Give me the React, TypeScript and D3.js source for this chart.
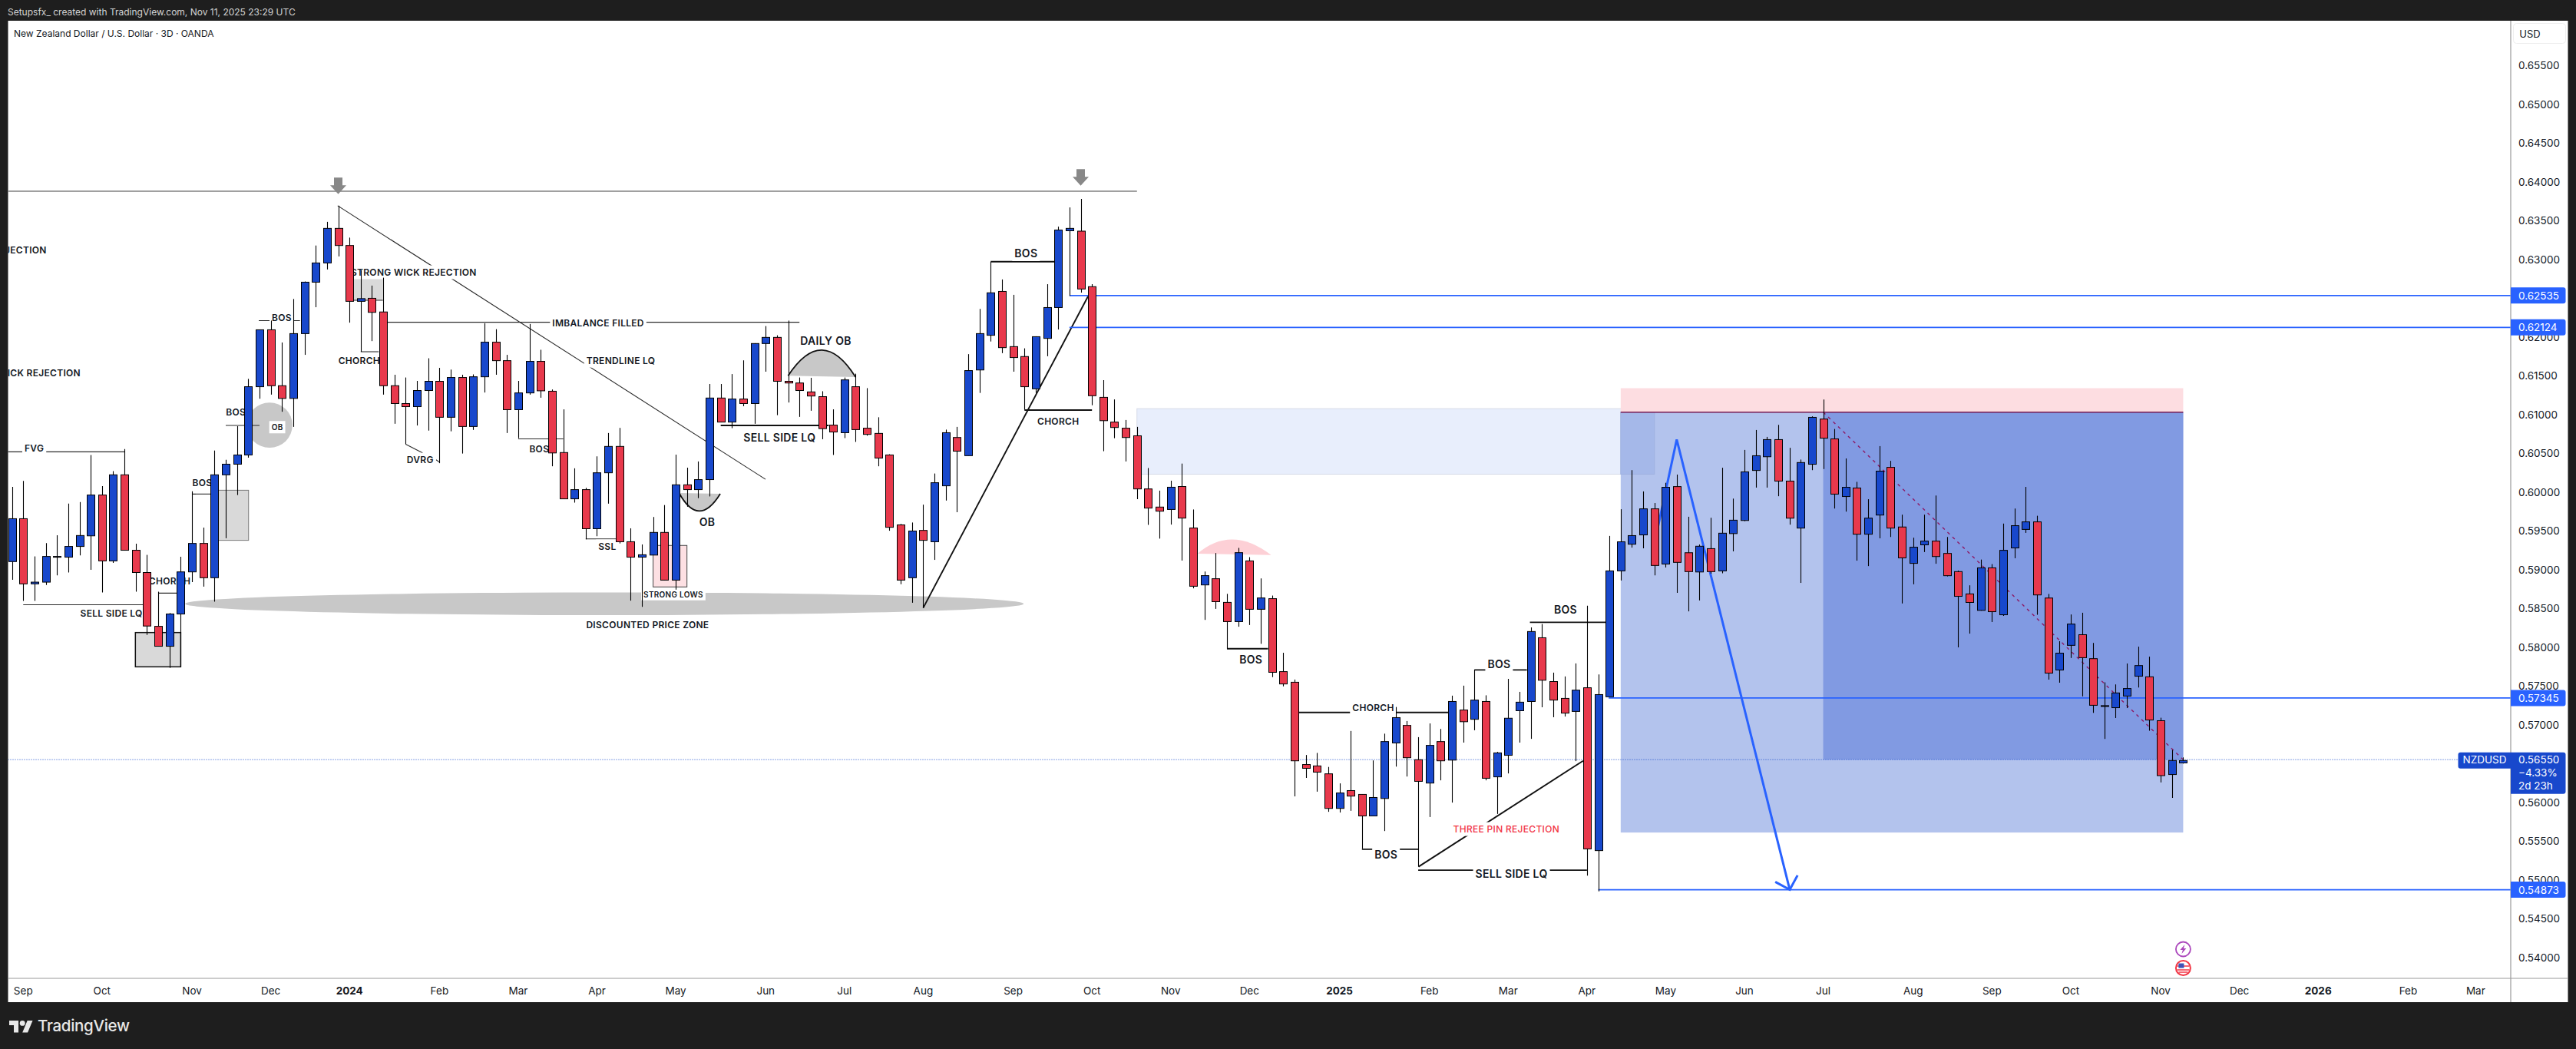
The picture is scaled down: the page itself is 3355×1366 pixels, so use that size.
import * as d3 from 'd3';

const size = { width: 3355, height: 1366 };

// frame of the TradingView snapshot
const pane = { left: 10.5, top: 27, right: 3270, bottom: 1274, outerRight: 3344.5, outerBottom: 1305 };

const color = {
  frame: '#1e1e1e',
  axisLine: '#9a9a9a',
  text: '#131722',
  up: '#1848cc',
  down: '#e8394c',
  tag: '#2962ff',
  grey: '#c8c8c8',
  box: '#d9d9d9',
  pink: '#fde0e3',
  zone: '#e8eefc',
  target: '#b3c3ed',
  active: '#819ae2',
  stop: '#fddde1',
  stopLine: '#7a1a50',
};

const opens = [
  0.59104, 0.59657, 0.58817, 0.58839, 0.59161, 0.59161, 0.59299, 0.59436, 0.59962, 0.59113,
  0.60223, 0.5925, 0.58963, 0.58269, 0.58012, 0.58428, 0.58971, 0.59338, 0.58896, 0.60223,
  0.6036, 0.60479, 0.61359, 0.62093, 0.61372, 0.61208, 0.62044, 0.62707, 0.62955, 0.63401,
  0.6318, 0.6246, 0.62499, 0.62323, 0.61372, 0.61142, 0.61102, 0.6131, 0.61429, 0.60965,
  0.61478, 0.60846, 0.61487, 0.61933, 0.61695, 0.61063, 0.61279, 0.61686, 0.61301, 0.6051,
  0.59913, 0.60032, 0.59528, 0.60249, 0.60589, 0.5936, 0.59161, 0.59188, 0.5948, 0.58865,
  0.60094, 0.60032, 0.60161, 0.61213, 0.60903, 0.612, 0.61142, 0.61916, 0.61995, 0.61429,
  0.61407, 0.61292, 0.61231, 0.60864, 0.60766, 0.61359, 0.60824, 0.60757, 0.60479, 0.59577,
  0.58896, 0.59506, 0.5936, 0.60081, 0.60704, 0.6047, 0.61575, 0.62022, 0.62588, 0.61876,
  0.61748, 0.61332, 0.61982, 0.6238, 0.6337, 0.63365, 0.62649, 0.61222, 0.60903, 0.60824,
  0.60726, 0.60041, 0.59807, 0.59776, 0.60072, 0.59537, 0.58803, 0.58883, 0.58578, 0.5833,
  0.59113, 0.58489, 0.58626, 0.57685, 0.57548, 0.56487, 0.56469, 0.56367, 0.55921, 0.56151,
  0.56102, 0.55824, 0.56049, 0.56765, 0.56991, 0.56549, 0.56248, 0.56783, 0.56544, 0.5719,
  0.5707, 0.573, 0.56328, 0.56606, 0.57181, 0.573, 0.58122, 0.57557, 0.5734, 0.57172,
  0.57477, 0.55377, 0.57361, 0.58984, 0.59328, 0.59448, 0.59784, 0.59072, 0.60071, 0.59218,
  0.5897, 0.59271, 0.58984, 0.59465, 0.59634, 0.60279, 0.60456, 0.60677, 0.60142, 0.59536,
  0.60359, 0.60942, 0.60686, 0.59943, 0.60053, 0.59457, 0.59704, 0.60319, 0.5955, 0.59081,
  0.5932, 0.59368, 0.59209, 0.58975, 0.58687, 0.58475, 0.59023, 0.58418, 0.5928, 0.59519,
  0.59616, 0.58634, 0.57706, 0.58024, 0.58161, 0.57852, 0.57237, 0.5722, 0.5737, 0.57626,
  0.57618, 0.57052, 0.56358, 0.56508,
];

const highs = [
  0.60068, 0.60143, 0.5917, 0.59343, 0.59444, 0.59851, 0.59873, 0.60479, 0.60077, 0.60271,
  0.60554, 0.59334, 0.59192, 0.58715, 0.58441, 0.59166, 0.6001, 0.59542, 0.60536, 0.60417,
  0.6085, 0.6146, 0.62093, 0.62212, 0.61929, 0.6249, 0.62716, 0.6318, 0.63485, 0.63693,
  0.63282, 0.62862, 0.62663, 0.62765, 0.61513, 0.61478, 0.61434, 0.61726, 0.61602, 0.6158,
  0.61513, 0.61518, 0.62177, 0.62101, 0.6177, 0.61434, 0.62168, 0.61836, 0.61323, 0.61067,
  0.60307, 0.60055, 0.60461, 0.60762, 0.60828, 0.59533, 0.59325, 0.59679, 0.59833, 0.60483,
  0.60315, 0.60395, 0.61394, 0.61394, 0.61522, 0.61699, 0.6192, 0.62141, 0.62022, 0.62212,
  0.61478, 0.61474, 0.61301, 0.61067, 0.61478, 0.61527, 0.61341, 0.60965, 0.60488, 0.5959,
  0.59608, 0.59838, 0.6024, 0.60806, 0.60841, 0.61779, 0.62362, 0.62972, 0.62742, 0.62544,
  0.61854, 0.62009, 0.62681, 0.63423, 0.63671, 0.63781, 0.62682, 0.61444, 0.61195, 0.6093,
  0.60841, 0.60311, 0.60019, 0.60147, 0.60368, 0.59776, 0.58976, 0.59214, 0.58688, 0.59281,
  0.59161, 0.58887, 0.58666, 0.57928, 0.57583, 0.5661, 0.56637, 0.56456, 0.56244, 0.5692,
  0.56102, 0.5654, 0.56885, 0.57229, 0.57048, 0.5684, 0.57017, 0.56946, 0.57375, 0.57504,
  0.57711, 0.5738, 0.5665, 0.57592, 0.57424, 0.58255, 0.58299, 0.57672, 0.57623, 0.57791,
  0.58534, 0.57649, 0.59435, 0.59779, 0.60283, 0.60009, 0.59859, 0.6012, 0.60226, 0.59682,
  0.59324, 0.59669, 0.60314, 0.59916, 0.60544, 0.60801, 0.60712, 0.60867, 0.60571, 0.6042,
  0.60977, 0.61194, 0.60814, 0.60434, 0.60133, 0.59908, 0.60593, 0.60403, 0.59709, 0.59412,
  0.59709, 0.59956, 0.59421, 0.58988, 0.58798, 0.5913, 0.59072, 0.59594, 0.59788, 0.60067,
  0.59695, 0.58687, 0.58077, 0.58422, 0.58444, 0.58055, 0.57547, 0.5752, 0.5779, 0.58007,
  0.57878, 0.57091, 0.56676, 0.56579,
];

const lows = [
  0.5887, 0.58596, 0.58596, 0.58803, 0.58927, 0.58963, 0.59184, 0.58998, 0.58706, 0.59086,
  0.5925, 0.58715, 0.58158, 0.58012, 0.57733, 0.57747, 0.58839, 0.58781, 0.58587, 0.59405,
  0.59962, 0.60444, 0.61204, 0.61257, 0.61036, 0.60841, 0.6177, 0.62384, 0.62871, 0.63039,
  0.62185, 0.6181, 0.61947, 0.61257, 0.60881, 0.60616, 0.60859, 0.60793, 0.60373, 0.60784,
  0.60497, 0.60802, 0.61284, 0.61513, 0.60762, 0.60696, 0.61257, 0.61217, 0.60333, 0.59909,
  0.59864, 0.59391, 0.59431, 0.59851, 0.59338, 0.586, 0.5852, 0.59188, 0.58865, 0.58742,
  0.59811, 0.59922, 0.59944, 0.60903, 0.60824, 0.61107, 0.60881, 0.61553, 0.60992, 0.61155,
  0.6097, 0.61049, 0.60682, 0.60479, 0.60696, 0.60647, 0.60727, 0.60333, 0.59502, 0.58812,
  0.58573, 0.58507, 0.59126, 0.59891, 0.59741, 0.6047, 0.61279, 0.61942, 0.61792, 0.61553,
  0.61063, 0.61279, 0.61752, 0.62097, 0.6253, 0.62573, 0.6112, 0.60527, 0.60695, 0.60395,
  0.59909, 0.59577, 0.594, 0.59581, 0.59117, 0.58759, 0.58352, 0.58494, 0.57981, 0.58264,
  0.58286, 0.58043, 0.57614, 0.57495, 0.56076, 0.56314, 0.56137, 0.55877, 0.55868, 0.5589,
  0.55404, 0.55824, 0.55629, 0.5646, 0.56332, 0.55169, 0.5581, 0.56283, 0.55996, 0.5677,
  0.56929, 0.56283, 0.5585, 0.56372, 0.5677, 0.56818, 0.57225, 0.57097, 0.57106, 0.56531,
  0.55054, 0.54851, 0.57361, 0.5886, 0.59284, 0.59275, 0.58926, 0.59028, 0.58701, 0.58462,
  0.58603, 0.58948, 0.58953, 0.59236, 0.59625, 0.60058, 0.60058, 0.59947, 0.5958, 0.58829,
  0.60283, 0.60297, 0.59788, 0.59748, 0.59116, 0.59046, 0.59404, 0.59421, 0.58564, 0.58811,
  0.59227, 0.59076, 0.58913, 0.57998, 0.58175, 0.58471, 0.58325, 0.58404, 0.59147, 0.59474,
  0.58418, 0.57582, 0.57542, 0.57861, 0.57366, 0.57153, 0.56817, 0.57087, 0.57215, 0.5748,
  0.56923, 0.56256, 0.56057, 0.56499,
];

const closes = [
  0.59657, 0.58817, 0.58839, 0.5917, 0.5917, 0.59299, 0.5944, 0.59962, 0.59113, 0.60223,
  0.5925, 0.58963, 0.58273, 0.58012, 0.58428, 0.58971, 0.59338, 0.58896, 0.60223, 0.6036,
  0.60479, 0.61359, 0.62093, 0.61372, 0.61208, 0.62044, 0.62707, 0.62955, 0.63401, 0.6318,
  0.6246, 0.62495, 0.62318, 0.61372, 0.61142, 0.61102, 0.6131, 0.61429, 0.60965, 0.61478,
  0.60846, 0.61487, 0.61933, 0.61695, 0.61063, 0.61279, 0.61686, 0.61306, 0.60505, 0.59913,
  0.60032, 0.59528, 0.60249, 0.60589, 0.5936, 0.59161, 0.59192, 0.5948, 0.58865, 0.60094,
  0.60032, 0.60161, 0.61213, 0.60903, 0.612, 0.61142, 0.61916, 0.61995, 0.61429, 0.61407,
  0.6131, 0.61239, 0.60819, 0.60775, 0.61447, 0.60806, 0.60744, 0.60439, 0.59546, 0.58865,
  0.59498, 0.59378, 0.60121, 0.60766, 0.60528, 0.61567, 0.62044, 0.6257, 0.61863, 0.61735,
  0.61359, 0.62004, 0.6238, 0.63379, 0.63401, 0.62619, 0.61243, 0.60921, 0.60833, 0.60704,
  0.60041, 0.59794, 0.59754, 0.60063, 0.59665, 0.58786, 0.58923, 0.58587, 0.5833, 0.59219,
  0.58489, 0.58635, 0.57676, 0.57526, 0.56535, 0.56438, 0.56389, 0.55921, 0.5612, 0.5608,
  0.55824, 0.56062, 0.56783, 0.57092, 0.56575, 0.5627, 0.56734, 0.56535, 0.573, 0.57039,
  0.57318, 0.5631, 0.56637, 0.57084, 0.57291, 0.58202, 0.57574, 0.57318, 0.5715, 0.57446,
  0.55399, 0.57389, 0.58984, 0.59359, 0.59439, 0.59784, 0.59054, 0.60062, 0.59094, 0.58975,
  0.59302, 0.58975, 0.5947, 0.59638, 0.60261, 0.60469, 0.60677, 0.60142, 0.59664, 0.60381,
  0.60964, 0.60695, 0.59974, 0.60062, 0.59457, 0.59664, 0.6027, 0.59536, 0.59152, 0.59289,
  0.59368, 0.59169, 0.58922, 0.58656, 0.58577, 0.59023, 0.58458, 0.59249, 0.59567, 0.59616,
  0.58674, 0.57666, 0.57923, 0.58298, 0.57865, 0.57251, 0.57246, 0.5741, 0.57467, 0.57763,
  0.57061, 0.56344, 0.56539, 0.56539,
];

const priceTicks = [
  0.655, 0.65, 0.645, 0.64, 0.635, 0.63, 0.62, 0.615, 0.61, 0.605, 0.6, 0.595, 0.59, 0.585, 0.58,
  0.575, 0.57, 0.56, 0.555, 0.55, 0.545, 0.54,
];

// month label and the bar it sits on
const timeLabels: [string, number][] = [
  ['Sep', 1], ['Oct', 8], ['Nov', 16], ['Dec', 23], ['2024', 30], ['Feb', 38], ['Mar', 45], ['Apr', 52],
  ['May', 59], ['Jun', 67], ['Jul', 74], ['Aug', 81], ['Sep', 89], ['Oct', 96], ['Nov', 103], ['Dec', 110],
  ['2025', 118], ['Feb', 126], ['Mar', 133], ['Apr', 140], ['May', 147], ['Jun', 154], ['Jul', 161],
  ['Aug', 169], ['Sep', 176], ['Oct', 183], ['Nov', 191], ['Dec', 198], ['2026', 205], ['Feb', 213], ['Mar', 219],
];

// drawings, all as [bar, price, bar, price]
type Seg = [number, number, number, number];

const thinSegments: Seg[] = [
  [-0.4, 0.60519, 10, 0.60519],
  [1, 0.58547, 11.67, 0.58547],
  [13, 0.58697, 14.66, 0.58697],
  [16, 0.59975, 17.67, 0.59975],
  [19, 0.60859, 22, 0.60859],
  [21.94, 0.62212, 25.6, 0.62212],
  [30.38, 0.62473, 32.97, 0.62473],
  [31, 0.6181, 32.6, 0.6181],
  [33.3, 0.6219, 70, 0.6219],
  [45, 0.60687, 49, 0.60687],
  [35, 0.60616, 36.5, 0.60505],
  [37.7, 0.60417, 38, 0.60386],
  [28.95, 0.63693, 66.98, 0.60165],
  [51, 0.59396, 53.97, 0.59396],
];

const boldSegments: Seg[] = [
  [63, 0.60859, 72.6, 0.60859],
  [87, 0.62972, 92.67, 0.62972],
  [90, 0.61058, 96, 0.61058],
  [81, 0.58507, 96, 0.6262],
  [108, 0.57981, 111.65, 0.57981],
  [114.37, 0.57159, 127.7, 0.57159],
  [120, 0.55395, 125, 0.55395],
  [125, 0.55125, 140, 0.55125],
  [125.03, 0.55169, 139.66, 0.56535],
  [130, 0.57707, 134.66, 0.57707],
  [134.93, 0.58321, 141.67, 0.58321],
];

const greyLevel: Seg = [-0.4, 0.63879, 100, 0.63879];

const blueLevels: [number, number][] = [
  [94, 0.62535],
  [94, 0.62124],
  [141.93, 0.57345],
  [141, 0.54873],
];

const levelTags = ['0.62535', '0.62124', '0.57345', '0.54873'];

// [bar, price, bar, price]
const greyBoxes: Seg[] = [
  [10.97, 0.58189, 15, 0.57747],
  [18.34, 0.60024, 21.03, 0.59378],
  [30.38, 0.62765, 32.97, 0.62473],
];
const strongLowsBox: Seg = [56.99, 0.59312, 60, 0.58777];
const supplyZone: Seg = [100, 0.61076, 146, 0.60231];

const positionBars = [143, 161, 193];
const positionPrices = { stop: 0.6134, entry: 0.61031, last: 0.5655, target: 0.5561 };

const discountZone: Seg = [15.39, 0.58706, 89.93, 0.58414];
const obCircle: Seg = [20.87, 0.61155, 24.93, 0.60572];

// [bar, price, control bar, control price, bar, price]
const obBowl = [59.3, 0.59988, 61.04, 0.59529, 62.96, 0.59979];
const dailyObArc = [68.99, 0.615, 72.01, 0.62172, 74.99, 0.61483];
const pinkArc = [105.38, 0.59206, 108.4, 0.59581, 111.93, 0.59188];

const arrowBars = [146, 147.98, 158.03];
const arrowPrices = [0.5934, 0.60677, 0.54873];
const arrowHeadBars = [156.74, 158.03, 158.72];
const arrowHeadPrices = [0.54974, 0.54873, 0.55058];

const dropMarkers: [number, number][] = [
  [29, 0.63843],
  [95, 0.63952],
];

type Label = [string, number, number];

const largeLabels: Label[] = [
  ['SELL SIDE LQ', 68.23, 0.60709],
  ['BOS', 90.14, 0.63078],
  ['DAILY OB', 72.34, 0.61956],
  ['OB', 61.8, 0.59612],
  ['BOS', 110.13, 0.5784],
  ['BOS', 122.14, 0.55333],
  ['SELL SIDE LQ', 133.29, 0.55081],
  ['BOS', 132.19, 0.57786],
  ['BOS', 138.1, 0.58489],
];

const mediumLabels: Label[] = [
  ['FVG', 1.98, 0.60563],
  ['SELL SIDE LQ', 8.84, 0.58436],
  ['CHORCH', 14.02, 0.58852],
  ['BOS', 16.91, 0.60121],
  ['BOS', 19.9, 0.61032],
  ['BOS', 23.98, 0.62247],
  ['DVRG', 36.29, 0.60417],
  ['STRONG WICK REJECTION', 35.71, 0.62835],
  ['CHORCH', 30.87, 0.61695],
  ['IMBALANCE FILLED', 52.11, 0.62181],
  ['TRENDLINE LQ', 54.12, 0.61695],
  ['BOS', 46.87, 0.60554],
  ['SSL', 52.91, 0.59299],
  ['DISCOUNTED PRICE ZONE', 56.5, 0.58286],
  ['CHORCH', 93, 0.60919],
  ['CHORCH', 121, 0.57216],
];

const smallLabels: Label[] = [
  ['OB', 23.58, 0.60837],
  ['STRONG LOWS', 58.79, 0.58684],
];

const redLabel: Label = ['THREE PIN REJECTION', 132.83, 0.55655];

// these run off the left edge of the pane, anchored on their right end
const cutLabels: Label[] = [
  ['WICK REJECTION', 3.08, 0.63123],
  ['WICK REJECTION', 6.1, 0.61536],
];

const FONT = 'Inter, "Noto Sans", sans-serif';

const xScale = d3.scaleLinear().domain([0, 193]).range([15.6, 2843.4]);
const yScale = d3.scaleLinear().domain([0.655, 0.54]).range([85.4, 1246.7]);

const measure = document.createElement('canvas').getContext('2d') as CanvasRenderingContext2D;
const textWidth = (text: string, fontSize: number, weight: number, spacing: number) => {
  measure.font = `${weight} ${fontSize}px Inter`;
  return measure.measureText(text).width + spacing * text.length;
};

const segProps = ([b1, p1, b2, p2]: Seg) => ({
  x1: xScale(b1),
  y1: yScale(p1),
  x2: xScale(b2),
  y2: yScale(p2),
});

const rectProps = ([b1, p1, b2, p2]: Seg) => ({
  x: xScale(b1),
  y: yScale(p1),
  width: xScale(b2) - xScale(b1),
  height: yScale(p2) - yScale(p1),
});

const ellipseProps = ([b1, p1, b2, p2]: Seg) => ({
  cx: (xScale(b1) + xScale(b2)) / 2,
  cy: (yScale(p1) + yScale(p2)) / 2,
  rx: (xScale(b2) - xScale(b1)) / 2,
  ry: (yScale(p2) - yScale(p1)) / 2,
});

const arcPath = ([b1, p1, bc, pc, b2, p2]: number[], close: boolean) => {
  const path = d3.path();
  path.moveTo(xScale(b1), yScale(p1));
  path.quadraticCurveTo(xScale(bc), yScale(pc), xScale(b2), yScale(p2));
  if (close) path.closePath();
  return path.toString();
};

const polyline = d3
  .line<[number, number]>()
  .x(d => xScale(d[0]))
  .y(d => yScale(d[1]));

const TextLabel = ({ label, fontSize, weight, fill, spacing }: { label: Label; fontSize: number; weight: number; fill: string; spacing: number }) => {
  const [text, bar, price] = label;
  const w = textWidth(text, fontSize, weight, spacing) + 6;
  const h = fontSize + 6;
  return (
    <g>
      <rect x={xScale(bar) - w / 2} y={yScale(price) - h / 2} width={w} height={h} fill="#fff" />
      <text
        x={xScale(bar)}
        y={yScale(price)}
        textAnchor="middle"
        dominantBaseline="central"
        fontSize={fontSize}
        fontWeight={weight}
        letterSpacing={spacing}
        fill={fill}
      >
        {text}
      </text>
    </g>
  );
};

const Tag = ({ price, text }: { price: number; text: string }) => (
  <g>
    <path
      d={`M${pane.right},${yScale(price) - 10.5}h68.5a3,3 0 0 1 3,3v15a3,3 0 0 1 -3,3h-68.5z`}
      fill={color.tag}
    />
    <text x={3280} y={yScale(price)} dominantBaseline="central" fontSize={13.5} fill="#fff">
      {text}
    </text>
  </g>
);

export default function App() {
  const lastY = yScale(positionPrices.last);
  const iconX = xScale(193);
  return (
    <svg
      width={size.width}
      height={size.height}
      style={{ position: 'absolute', left: 0, top: 0, display: 'block' }}
      fontFamily={FONT}
    >
      <defs>
        <clipPath id="pane">
          <rect x={pane.left} y={pane.top} width={pane.right - pane.left} height={pane.bottom - pane.top} />
        </clipPath>
      </defs>

      <rect width={size.width} height={size.height} fill={color.frame} />
      <rect
        x={pane.left}
        y={pane.top}
        width={pane.outerRight - pane.left}
        height={pane.outerBottom - pane.top}
        fill="#fff"
      />

      <text x={10} y={15} dominantBaseline="central" fontSize={12} fill="#d4d4d4">
        Setupsfx_ created with TradingView.com, Nov 11, 2025 23:29 UTC
      </text>
      <text x={18} y={43} dominantBaseline="central" fontSize={12} fill={color.text}>
        New Zealand Dollar / U.S. Dollar · 3D · OANDA
      </text>

      <g clipPath="url(#pane)">
        {/* areas */}
        <rect {...rectProps(supplyZone)} fill={color.zone} stroke="#d6dbe8" />
        <rect
          x={xScale(positionBars[0])}
          y={yScale(positionPrices.stop)}
          width={xScale(positionBars[2]) - xScale(positionBars[0])}
          height={yScale(positionPrices.entry) - yScale(positionPrices.stop)}
          fill={color.stop}
        />
        <rect
          x={xScale(positionBars[0])}
          y={yScale(positionPrices.entry)}
          width={xScale(positionBars[2]) - xScale(positionBars[0])}
          height={yScale(positionPrices.target) - yScale(positionPrices.entry)}
          fill={color.target}
        />
        <rect {...rectProps(supplyZone)} x={xScale(positionBars[0])} width={xScale(146) - xScale(positionBars[0])} y={yScale(positionPrices.entry)} height={yScale(supplyZone[3]) - yScale(positionPrices.entry)} fill="#a5b8e9" stroke="#9fb1e0" />
        <rect
          x={xScale(positionBars[1])}
          y={yScale(positionPrices.entry)}
          width={xScale(positionBars[2]) - xScale(positionBars[1])}
          height={yScale(positionPrices.last) - yScale(positionPrices.entry)}
          fill={color.active}
        />
        <line
          x1={xScale(positionBars[0])}
          x2={xScale(positionBars[2])}
          y1={yScale(positionPrices.entry)}
          y2={yScale(positionPrices.entry)}
          stroke={color.stopLine}
          strokeWidth={1.5}
        />
        <line
          x1={xScale(positionBars[1])}
          x2={xScale(positionBars[2])}
          y1={yScale(positionPrices.entry)}
          y2={lastY}
          stroke="#8c1a66"
          strokeWidth={1.4}
          strokeDasharray="4 5"
        />

        <ellipse {...ellipseProps(discountZone)} fill={color.grey} />
        <ellipse {...ellipseProps(obCircle)} fill={color.grey} />
        {greyBoxes.map((b, i) => (
          <rect
            key={i}
            {...rectProps(b)}
            fill={color.box}
            stroke={i === 0 ? '#111' : i === 1 ? '#777' : 'none'}
            strokeWidth={i === 0 ? 1.5 : 1}
          />
        ))}
        <rect {...rectProps(strongLowsBox)} fill={color.pink} stroke="#444" />

        <path d={arcPath(obBowl, true)} fill={color.grey} />
        <path d={arcPath(obBowl, false)} fill="none" stroke="#111" strokeWidth={1.8} />
        <path d={arcPath(dailyObArc, true)} fill={color.grey} />
        <path d={arcPath(dailyObArc, false)} fill="none" stroke="#111" strokeWidth={1.8} />
        <path d={arcPath(pinkArc, true)} fill="#fdd0d6" />

        {/* lines */}
        <line {...segProps(greyLevel)} stroke="#808080" strokeWidth={1.5} />
        {thinSegments.map((s, i) => (
          <line key={i} {...segProps(s)} stroke="#2a2a2a" strokeWidth={1.1} />
        ))}
        {boldSegments.map((s, i) => (
          <line key={i} {...segProps(s)} stroke="#111" strokeWidth={1.9} />
        ))}
        {blueLevels.map(([bar, price], i) => (
          <line
            key={i}
            x1={xScale(bar)}
            x2={pane.right}
            y1={yScale(price)}
            y2={yScale(price)}
            stroke={color.tag}
            strokeWidth={1.7}
          />
        ))}
        <line
          x1={pane.left}
          x2={pane.right}
          y1={lastY}
          y2={lastY}
          stroke={color.up}
          strokeWidth={1}
          strokeDasharray="1 2"
        />

        {/* projection arrow */}
        <path
          d={polyline(arrowBars.map((b, i) => [b, arrowPrices[i]] as [number, number])) || ''}
          fill="none"
          stroke={color.tag}
          strokeWidth={3}
        />
        <path
          d={polyline(arrowHeadBars.map((b, i) => [b, arrowHeadPrices[i]] as [number, number])) || ''}
          fill="none"
          stroke={color.tag}
          strokeWidth={3}
        />

        {dropMarkers.map(([bar, price], i) => (
          <path
            key={i}
            transform={`translate(${xScale(bar)},${yScale(price)})`}
            d="M0,0L-10.5,-11.5H-5.5V-21.5H5.5V-11.5H10.5Z"
            fill="#888"
          />
        ))}

        {/* text */}
        {cutLabels.map(([text, bar, price], i) => (
          <text
            key={i}
            x={xScale(bar)}
            y={yScale(price)}
            textAnchor="end"
            dominantBaseline="central"
            fontSize={12}
            fontWeight={600}
            letterSpacing={0.3}
            fill={color.text}
          >
            {text}
          </text>
        ))}
        {mediumLabels.map((l, i) => (
          <TextLabel key={i} label={l} fontSize={12} weight={600} fill={color.text} spacing={0.3} />
        ))}
        {largeLabels.map((l, i) => (
          <TextLabel key={i} label={l} fontSize={14} weight={600} fill={color.text} spacing={0.3} />
        ))}
        {smallLabels.map((l, i) => (
          <TextLabel key={i} label={l} fontSize={10} weight={600} fill={color.text} spacing={0.3} />
        ))}
        <TextLabel label={redLabel} fontSize={12} weight={500} fill="#f23645" spacing={0.3} />

        {/* candles */}
        {opens.map((open, i) => {
          const up = closes[i] >= open;
          const cx = Math.round(xScale(i)) + 0.5;
          const top = yScale(Math.max(open, closes[i]));
          const bottom = yScale(Math.min(open, closes[i]));
          return (
            <g key={i}>
              <line x1={cx} x2={cx} y1={yScale(highs[i])} y2={yScale(lows[i])} stroke="#000" strokeWidth={1.1} />
              <rect
                x={cx - 5}
                y={top}
                width={10}
                height={Math.max(bottom - top, 1)}
                fill={up ? color.up : color.down}
                stroke="#000"
                strokeWidth={1}
              />
            </g>
          );
        })}

        {/* event icons */}
        <circle cx={iconX} cy={1236} r={9.5} fill="#fff" stroke="#ab47bc" strokeWidth={1.8} />
        <path
          transform={`translate(${iconX},1236)`}
          d="M2,-6L-4,1H-0.5L-2,6L4,-1H0.5Z"
          fill="#ab47bc"
        />
        <circle cx={iconX} cy={1260.5} r={9.5} fill="#fff" stroke="#f23645" strokeWidth={2} />
        <path
          transform={`translate(${iconX},1260.5)`}
          d="M-8,-2.5H8M-8,2.5H8M-6,5.5H6"
          stroke="#f23645"
          strokeWidth={1.6}
          fill="none"
        />
        <rect x={iconX - 6} y={1254.5} width={7} height={6} fill="#3f51b5" />
      </g>

      {/* price axis */}
      <line x1={pane.right} x2={pane.right} y1={pane.top} y2={pane.outerBottom} stroke={color.axisLine} strokeWidth={1.2} />
      <rect x={3273.5} y={30.5} width={68} height={26} rx={4} fill="#fff" stroke="#eeeeee" />
      <text x={3295} y={43.5} textAnchor="middle" dominantBaseline="central" fontSize={13} fill={color.text}>
        USD
      </text>
      {priceTicks.map(tick => (
        <text key={tick} x={3280} y={yScale(tick)} dominantBaseline="central" fontSize={13.5} fill={color.text}>
          {tick.toFixed(5)}
        </text>
      ))}
      {blueLevels.map(([, price], i) => (
        <Tag key={i} price={price} text={levelTags[i]} />
      ))}
      <path
        d={`M${pane.right},${lastY - 9.5}h68.5a3,3 0 0 1 3,3v48a3,3 0 0 1 -3,3h-68.5z`}
        fill={color.up}
      />
      <text x={3280} y={lastY} dominantBaseline="central" fontSize={13.5} fill="#fff">
        0.56550
      </text>
      <text x={3280} y={lastY + 17} dominantBaseline="central" fontSize={13.5} fill="#fff">
        −4.33%
      </text>
      <text x={3280} y={lastY + 33.5} dominantBaseline="central" fontSize={13.5} fill="#fff">
        2d 23h
      </text>
      <path
        d={`M${pane.right},${lastY - 9.5}h-65.5a3,3 0 0 0 -3,3v15a3,3 0 0 0 3,3h65.5z`}
        fill={color.up}
      />
      <text x={3236} y={lastY} textAnchor="middle" dominantBaseline="central" fontSize={13.5} fill="#fff">
        NZDUSD
      </text>

      {/* time axis */}
      <line x1={pane.left} x2={pane.outerRight} y1={pane.bottom} y2={pane.bottom} stroke={color.axisLine} strokeWidth={1.2} />
      {timeLabels.map(([text, bar], i) => (
        <text
          key={i}
          x={xScale(bar)}
          y={1290}
          textAnchor="middle"
          dominantBaseline="central"
          fontSize={13.5}
          fontWeight={/^\d/.test(text) ? 700 : 400}
          fill={color.text}
        >
          {text}
        </text>
      ))}

      {/* logo */}
      <g transform="translate(12,1325.5) scale(0.86)" fill="#e8e8e8">
        <path d="M14 22H7V11H0V4h14v18zM28 22h-8l7.5-18h8L28 22z" />
        <circle cx={20} cy={8} r={4} />
      </g>
      <text x={49} y={1335} dominantBaseline="central" fontSize={20.5} fontWeight={500} letterSpacing={-0.3} fill="#e8e8e8">
        TradingView
      </text>
    </svg>
  );
}
